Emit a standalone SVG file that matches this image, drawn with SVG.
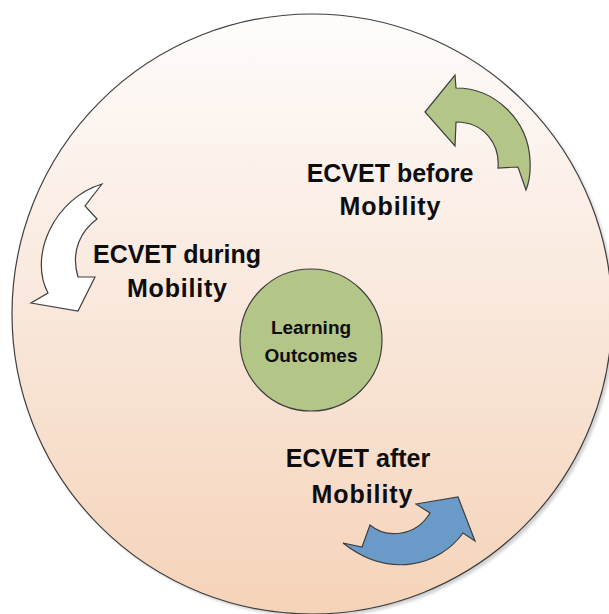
<svg xmlns="http://www.w3.org/2000/svg" width="609" height="614" viewBox="0 0 609 614">
  <defs>
    <linearGradient id="bg" x1="0" y1="0" x2="0" y2="1">
      <stop offset="0" stop-color="#fefcfb"/>
      <stop offset="0.5" stop-color="#f9e7db"/>
      <stop offset="1" stop-color="#f5d3b8"/>
    </linearGradient>
    <filter id="blur" x="-10%" y="-10%" width="120%" height="120%">
      <feGaussianBlur stdDeviation="1.5"/>
    </filter>
  </defs>
  <style>
    .shape { stroke: #3f3f3f; stroke-width: 1.2; stroke-linejoin: miter; }
    .lbl { font-family: "Liberation Sans", Arial, sans-serif; font-weight: bold; font-size: 25px; fill: #0d0d0d; text-anchor: middle; }
    .small { font-family: "Liberation Sans", Arial, sans-serif; font-weight: bold; font-size: 19px; fill: #0d0d0d; text-anchor: middle; }
  </style>
  <rect width="609" height="614" fill="#ffffff"/>

  <g id="outer-circle">
    <circle cx="315" cy="317" r="300" fill="#000" opacity="0.18" filter="url(#blur)"/>
    <circle cx="312" cy="314" r="300" fill="url(#bg)" stroke="#3f3f3f" stroke-width="1.2"/>
  </g>

  <g id="arrows">
    <path id="arrow-before" class="shape" fill="#b4c588" d="M425,112 L455,75 L456,88 C495,88 528,120 530,160 Q531,178 526,190 L518,167 L498,168 C500,145 485,122 456,122 L455,146 Z"/>
    <path id="arrow-during" class="shape" fill="#ffffff" d="M102,184 L85,206 L97,219 C82,230 70,250 78,277 L95,277 L78,311 L31,303 L48,293 C28,255 55,198 102,184 Z"/>
    <path id="arrow-after" class="shape" fill="#6a9bc8" d="M343,543 L362,547 L370,525 C385,538 415,538 430,513 L416,504 L458,497 L475,541 L463,533 C440,565 390,580 343,543 Z"/>
  </g>

  <g id="learning-outcomes">
    <circle cx="311" cy="340" r="71" fill="#b4c588" stroke="#3f3f3f" stroke-width="1.2"/>
    <text class="small" x="311" y="334">Learning</text>
    <text class="small" x="311" y="362">Outcomes</text>
  </g>

  <g id="label-before">
    <text class="lbl" x="390" y="182">ECVET before</text>
    <text class="lbl" x="390" y="215" textLength="101" lengthAdjust="spacing">Mobility</text>
  </g>

  <g id="label-during">
    <text class="lbl" x="177" y="263">ECVET during</text>
    <text class="lbl" x="177" y="297" textLength="100" lengthAdjust="spacing">Mobility</text>
  </g>

  <g id="label-after">
    <text class="lbl" x="358" y="467">ECVET after</text>
    <text class="lbl" x="362" y="503" textLength="101" lengthAdjust="spacing">Mobility</text>
  </g>
</svg>
